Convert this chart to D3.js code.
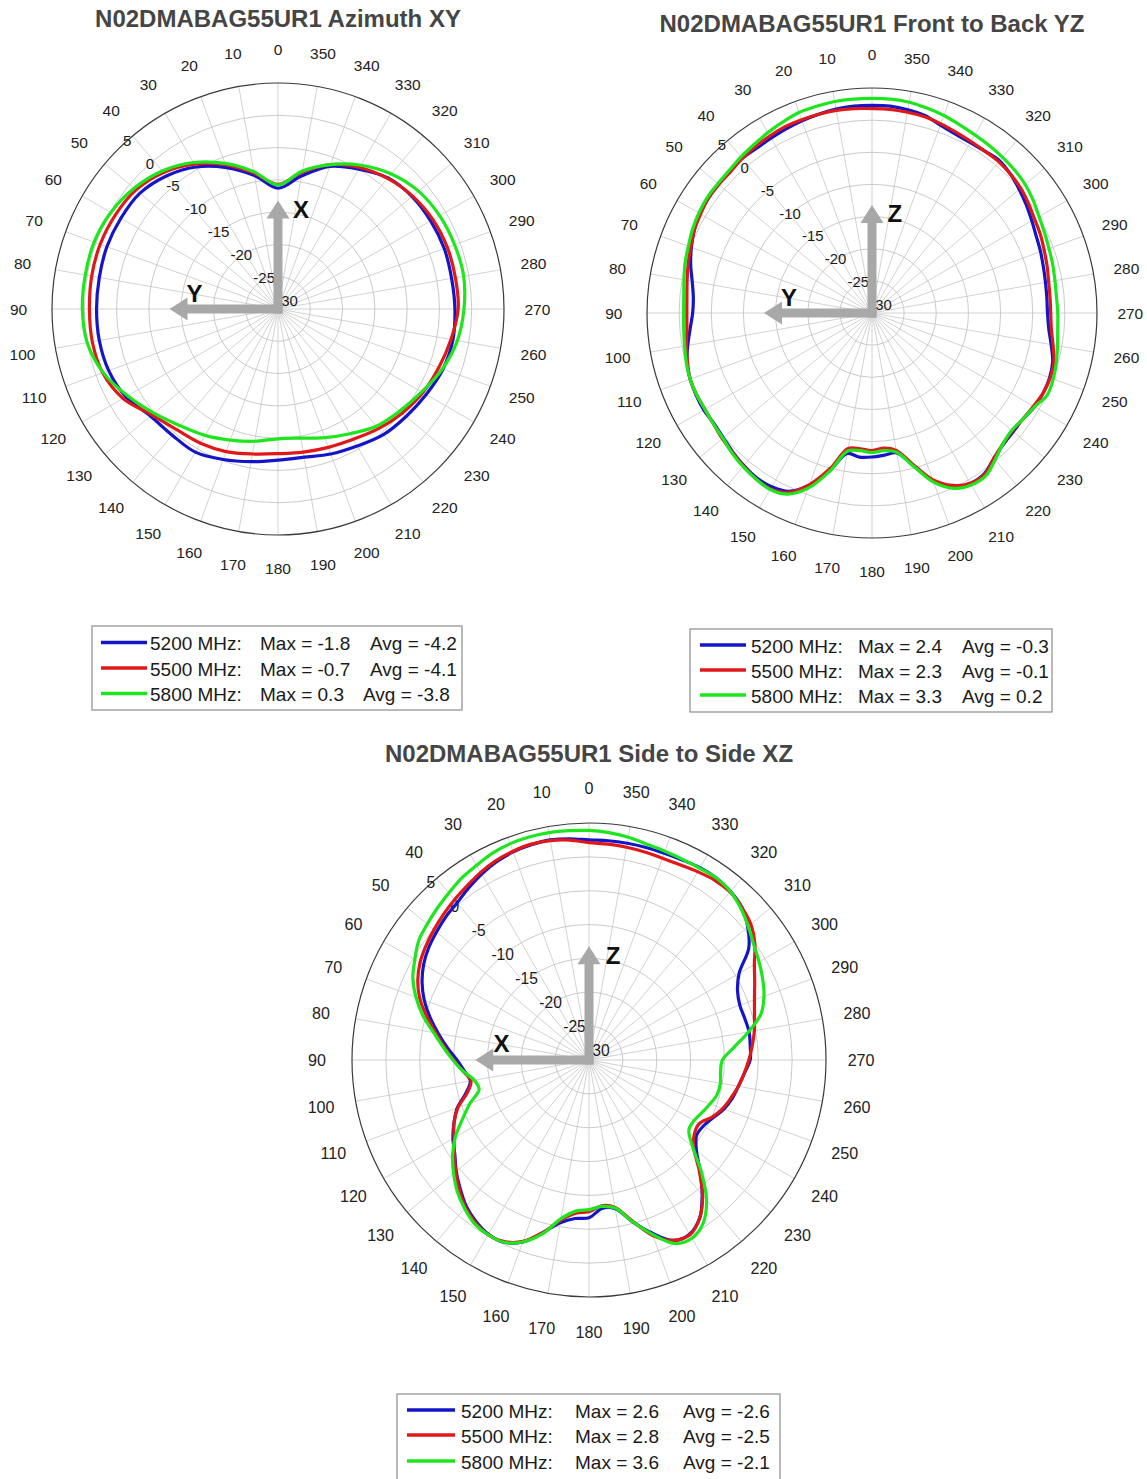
<!DOCTYPE html>
<html><head><meta charset="utf-8">
<script src="https://cdn.jsdelivr.net/npm/d3@7"></script>
<style>
body{margin:0;background:#fff}
svg{display:block}
text{font-family:"Liberation Sans",Arial,Helvetica,sans-serif}
</style>
</head><body>
<svg id="chart" width="1147" height="1479"></svg>
<script>
// ---------- data ----------
const seriesNames = ["5200 MHz", "5500 MHz", "5800 MHz"];
const seriesColors = ["#1414c8", "#e01818", "#1ee61e"];
const angleTicks = [0,10,20,30,40,50,60,70,80,90,100,110,120,130,140,150,160,170,180,190,200,210,220,230,240,250,260,270,280,290,300,310,320,330,340,350];
const ringTicks = [5, 0, -5, -10, -15, -20, -25, -30];

const angles10 = [0,10,20,30,40,50,60,70,80,90,100,110,120,130,140,150,160,170,180,190,200,210,220,230,240,250,260,270,280,290,300,310,320,330,340,350];
const angles5 = [0,5,10,15,20,25,30,35,40,45,50,55,60,65,70,75,80,85,90,95,100,105,110,115,120,125,130,135,140,145,150,155,160,165,170,175,180,185,190,195,200,205,210,215,220,225,230,235,240,245,250,255,260,265,270,275,280,285,290,295,300,305,310,315,320,325,330,335,340,345,350,355];

// Azimuth XY (10 deg steps)
const az5200 = [-11.3,-9.0,-6.7,-4.6,-3.1,-2.1,-1.9,-1.8,-1.9,-1.9,-1.9,-2.1,-2.8,-4.2,-4.5,-4.4,-5.2,-6.0,-6.6,-6.7,-6.1,-5.5,-4.6,-4.1,-3.5,-2.8,-2.5,-2.6,-2.7,-2.6,-2.7,-2.9,-3.5,-5.0,-6.5,-9.1];
const az5500 = [-10.7,-8.6,-6.2,-4.1,-2.4,-1.3,-0.9,-0.7,-0.7,-0.8,-0.8,-1.1,-2.3,-4.5,-5.6,-6.0,-6.5,-7.2,-7.6,-7.5,-7.2,-6.7,-5.8,-4.9,-4.1,-3.5,-2.8,-2.1,-2.1,-2.1,-2.3,-2.8,-3.6,-4.7,-6.2,-8.5];
const az5800 = [-10.8,-8.4,-6.0,-3.8,-2.1,-0.9,-0.1,0.3,0.3,0.3,0.0,-1.2,-3.1,-4.9,-6.4,-7.4,-8.4,-9.2,-9.9,-9.7,-8.8,-7.7,-6.3,-5.4,-4.3,-2.9,-1.8,-1.2,-0.8,-0.9,-1.1,-1.6,-2.7,-4.3,-6.2,-8.3];
const azMax = [-1.8, -0.7, 0.3];
const azAvg = [-4.2, -4.1, -3.8];

// Front to Back YZ (5 deg steps)
const yz5200 = [2.3,2.3,2.2,2.0,1.8,1.6,1.4,1.3,1.4,1.3, 1.2,1.1,0.9,0.5,-0.1,-0.8,-1.6,-2.1,-2.1,-1.6, -0.9,-0.2,0.1,0.2,0.2,0.0,0.2,0.6,1.0,1.3, 1.2,0.6,-1.5,-4.6,-7.8,-7.5,-7.6,-7.8,-7.9,-5.5, -2.2,-0.2,0.6,0.5,-0.5,-1.1,-1.3,-1.3,-0.8,-0.6, -0.6,-0.9,-1.7,-2.4,-2.7,-2.7,-2.6,-2.4,-2.1,-1.8, -1.3,-0.7,-0.1,0.5,0.9,0.7,0.6,0.7,1.1,1.8, 2.1,2.3];
const yz5500 = [1.8,1.9,2.0,2.0,2.0,2.0,1.8,1.6,1.4,1.1, 1.1,1.1,0.8,0.5,0.0,-0.4,-0.8,-1.1,-1.2,-1.1, -0.7,-0.3,0.1,0.1,0.0,0.1,0.4,0.7,1.1,1.5, 1.6,0.8,-1.6,-5.0,-8.6,-8.8,-8.6,-8.9,-8.3,-5.7, -2.4,-0.4,0.6,0.6,-0.5,-1.2,-1.5,-1.3,-1.0,-0.6, -0.5,-0.7,-1.4,-2.0,-2.2,-2.2,-2.1,-1.8,-1.5,-1.1, -0.8,-0.3,0.2,0.5,0.7,0.7,0.8,1.0,1.3,1.6, 1.7,1.8];
const yz5800 = [3.4,3.4,3.4,3.3,3.2,2.8,2.4,2.0,1.7,1.4, 1.3,1.3,1.1,0.8,0.4,0.1,-0.3,-0.6,-0.7,-0.6, -0.4,-0.1,0.1,0.1,0.0,0.1,0.3,0.8,1.2,1.5, 1.7,1.1,-1.0,-4.5,-8.2,-8.5,-8.3,-8.5,-8.0,-5.4, -2.0,0.1,0.9,0.9,-0.2,-1.2,-1.6,-1.3,-0.8,0.1, 0.0,-0.3,-0.7,-1.0,-1.1,-1.2,-1.1,-0.9,-0.7,-0.4, 0.0,0.6,1.1,1.4,1.6,1.8,2.0,2.3,2.7,3.0, 3.3,3.4];
const yzMax = [2.4, 2.3, 3.3];
const yzAvg = [-0.3, -0.1, 0.2];

// Side to Side XZ (5 deg steps)
const xz5200 = [2.5,2.8,3.0,2.9,2.7,2.3,1.7,1.0,0.3,-0.1, -0.6,-1.1,-1.8,-2.8,-4.1,-5.7,-7.4,-9.0,-10.5,-11.5, -12.2,-11.2,-9.3,-8.0,-6.8,-5.8,-4.4,-3.1,-1.8,-0.9, -0.3,-0.3,-1.4,-3.6,-5.6,-6.5,-6.7,-8.0,-7.7,-5.3, -2.8,-0.6,-0.3,-1.5,-4.0,-6.8,-9.3,-10.6,-10.5,-9.8, -8.8,-8.1,-7.6,-7.0,-6.2,-6.1,-6.0,-6.2,-6.3,-5.8, -4.4,-1.2,0.6,1.9,2.5,2.8,2.8,2.6,2.5,2.5, 2.5,2.5];
const xz5500 = [2.1,2.6,2.9,3.0,2.8,2.5,2.0,1.4,0.9,0.4, -0.1,-0.6,-1.2,-2.1,-3.4,-5.2,-7.0,-8.6,-10.0,-11.3, -12.3,-11.4,-9.4,-8.0,-7.0,-5.7,-4.3,-2.9,-1.6,-0.7, -0.2,-0.4,-1.5,-3.6,-6.0,-7.3,-7.6,-8.4,-7.9,-5.4, -2.4,-0.6,-0.2,-1.5,-3.9,-7.0,-9.8,-11.0,-11.2,-10.0, -9.0,-8.3,-7.6,-7.0,-6.4,-5.8,-5.2,-4.7,-4.0,-3.0, -1.8,-0.1,1.2,1.9,2.4,2.4,2.1,1.8,1.7,1.8, 1.9,2.0];
const xz5800 = [3.9,4.0,4.1,4.1,4.0,3.7,3.2,2.8,2.2,1.7, 1.2,0.7,-0.3,-1.3,-2.8,-4.6,-6.7,-8.4,-9.9,-11.3, -12.8,-13.2,-11.3,-9.4,-7.2,-5.4,-3.9,-2.5,-1.4,-0.5, -0.2,-0.3,-1.4,-3.4,-6.2,-7.6,-7.9,-8.3,-7.8,-5.3, -2.6,-0.1,0.4,-0.6,-3.0,-6.5,-10.0,-12.0,-12.1,-11.6, -11.0,-10.4,-10.3,-10.5,-10.3,-8.5,-6.1,-3.7,-2.5,-1.7, -1.0,-0.3,0.7,1.7,2.5,2.8,2.7,2.7,2.8,3.0, 3.4,3.7];
const xzMax = [2.6, 2.8, 3.6];
const xzAvg = [-2.6, -2.5, -2.1];

// ---------- drawing ----------
const svg = d3.select("#chart");
const RAD = Math.PI / 180;

function drawPolar(cfg) {
  const g = svg.append("g").attr("transform", `translate(${cfg.cx},${cfg.cy})`);
  const R = cfg.R;
  const r = d3.scaleLinear().domain([-30, 5]).range([0, R]);
  const k = R / 226;

  // title
  svg.append("text").attr("x", cfg.cx).attr("y", cfg.titleY)
    .attr("text-anchor", "middle").attr("dominant-baseline", "central")
    .attr("font-size", 24).attr("font-weight", "bold").attr("fill", "#454545")
    .text(cfg.title);

  // radial spokes
  g.selectAll("line.spoke").data(angleTicks).enter().append("line")
    .attr("x1", 0).attr("y1", 0)
    .attr("x2", a => -R * Math.sin(a * RAD)).attr("y2", a => -R * Math.cos(a * RAD))
    .attr("stroke", "#cdcdcd").attr("stroke-width", 0.9);

  // rings
  g.selectAll("circle.ring").data(ringTicks.filter(v => v > -30 && v < 5)).enter().append("circle")
    .attr("r", v => r(v)).attr("fill", "none").attr("stroke", "#c4c4c4").attr("stroke-width", 0.9);
  g.append("circle").attr("r", r(5)).attr("fill", "none").attr("stroke", "#3a3a3a").attr("stroke-width", 1.2);

  // angle labels
  const L = R * 1.148;
  g.selectAll("text.ang").data(angleTicks).enter().append("text")
    .attr("x", a => -L * Math.sin(a * RAD)).attr("y", a => -L * Math.cos(a * RAD))
    .attr("text-anchor", "middle").attr("dominant-baseline", "central")
    .attr("font-size", 15.5 * Math.min(k, 1.04)).attr("fill", "#222").text(a => String(a));

  // ring labels
  const ringAng = 45 * RAD;
  g.selectAll("text.rl").data(ringTicks).enter().append("text")
    .attr("x", v => -r(v) * Math.sin(ringAng) + 9 * k)
    .attr("y", v => -r(v) * Math.cos(ringAng) - 9 * k)
    .attr("text-anchor", "middle").attr("dominant-baseline", "central")
    .attr("font-size", 15 * Math.min(k, 1.04)).attr("fill", "#1a1a1a").text(v => String(v));

  // arrows
  const len = 0.48 * R, sw = 4.5, hw = 11.5, hl = 18;
  const arrowCol = "#a8a8a8";
  g.append("path").attr("fill", arrowCol)
    .attr("d", `M${-sw},0 L${-sw},${-len + hl} L${-hw},${-len + hl} L0,${-len} L${hw},${-len + hl} L${sw},${-len + hl} L${sw},${sw} L${-sw},${sw}Z`);
  g.append("path").attr("fill", arrowCol)
    .attr("d", `M0,${-sw} L${-len + hl},${-sw} L${-len + hl},${-hw} L${-len},0 L${-len + hl},${hw} L${-len + hl},${sw} L${sw},${sw} L${sw},${-sw}Z`);
  g.append("text").attr("x", 23 * k).attr("y", -len + 9 * k)
    .attr("text-anchor", "middle").attr("dominant-baseline", "central")
    .attr("font-size", 24).attr("font-weight", "bold").attr("fill", "#111").text(cfg.upLabel);
  g.append("text").attr("x", -len + 25 * k).attr("y", -16 * k)
    .attr("text-anchor", "middle").attr("dominant-baseline", "central")
    .attr("font-size", 24).attr("font-weight", "bold").attr("fill", "#111").text(cfg.leftLabel);

  // curves
  const line = d3.lineRadial()
    .angle(d => -d[0] * RAD)
    .radius(d => r(d[1]))
    .curve(d3.curveCatmullRomClosed.alpha(0.5));
  cfg.series.forEach((vals, i) => {
    const pts = cfg.angles.map((a, j) => [a, vals[j]]);
    g.append("path").attr("d", line(pts)).attr("fill", "none")
      .attr("stroke", seriesColors[i]).attr("stroke-width", 3.2)
      .attr("stroke-linejoin", "round");
  });

  // legend
  const lg = cfg.legend;
  svg.append("rect").attr("x", lg.x).attr("y", lg.y).attr("width", lg.w).attr("height", lg.h)
    .attr("fill", "#fff").attr("stroke", "#8c8c8c").attr("stroke-width", 1.2);
  seriesNames.forEach((name, i) => {
    const y = lg.rows[i];
    svg.append("line").attr("x1", lg.lx1).attr("x2", lg.lx2).attr("y1", y).attr("y2", y)
      .attr("stroke", seriesColors[i]).attr("stroke-width", 3.5);
    const t = (x, s) => svg.append("text").attr("x", x).attr("y", y + 1)
      .attr("dominant-baseline", "central").attr("font-size", 19).attr("fill", "#1a1a1a").text(s);
    t(lg.nx, name + ":");
    t(lg.mx, "Max = " + cfg.max[i].toFixed(1));
    t(lg.ax[i], "Avg = " + cfg.avg[i].toFixed(1));
  });
}

drawPolar({
  cx: 278, cy: 309, R: 226, title: "N02DMABAG55UR1 Azimuth XY", titleY: 18.5,
  upLabel: "X", leftLabel: "Y", angles: angles10, series: [az5200, az5500, az5800],
  max: azMax, avg: azAvg,
  legend: { x: 92, y: 626, w: 370, h: 84, rows: [642.5, 668, 693.5], lx1: 101, lx2: 147, nx: 150, mx: 260, ax: [370, 370, 363] }
});
drawPolar({
  cx: 872, cy: 313, R: 225, title: "N02DMABAG55UR1 Front to Back YZ", titleY: 23.5,
  upLabel: "Z", leftLabel: "Y", angles: angles5, series: [yz5200, yz5500, yz5800],
  max: yzMax, avg: yzAvg,
  legend: { x: 690, y: 629, w: 362, h: 83, rows: [645, 670, 695], lx1: 700, lx2: 746, nx: 751, mx: 858, ax: [962, 962, 962] }
});
drawPolar({
  cx: 589, cy: 1060, R: 237, title: "N02DMABAG55UR1 Side to Side XZ", titleY: 753,
  upLabel: "Z", leftLabel: "X", angles: angles5, series: [xz5200, xz5500, xz5800],
  max: xzMax, avg: xzAvg,
  legend: { x: 397, y: 1394, w: 383, h: 95, rows: [1410, 1435, 1461], lx1: 407, lx2: 455, nx: 461, mx: 575, ax: [683, 683, 683] }
});
</script>
</body></html>
